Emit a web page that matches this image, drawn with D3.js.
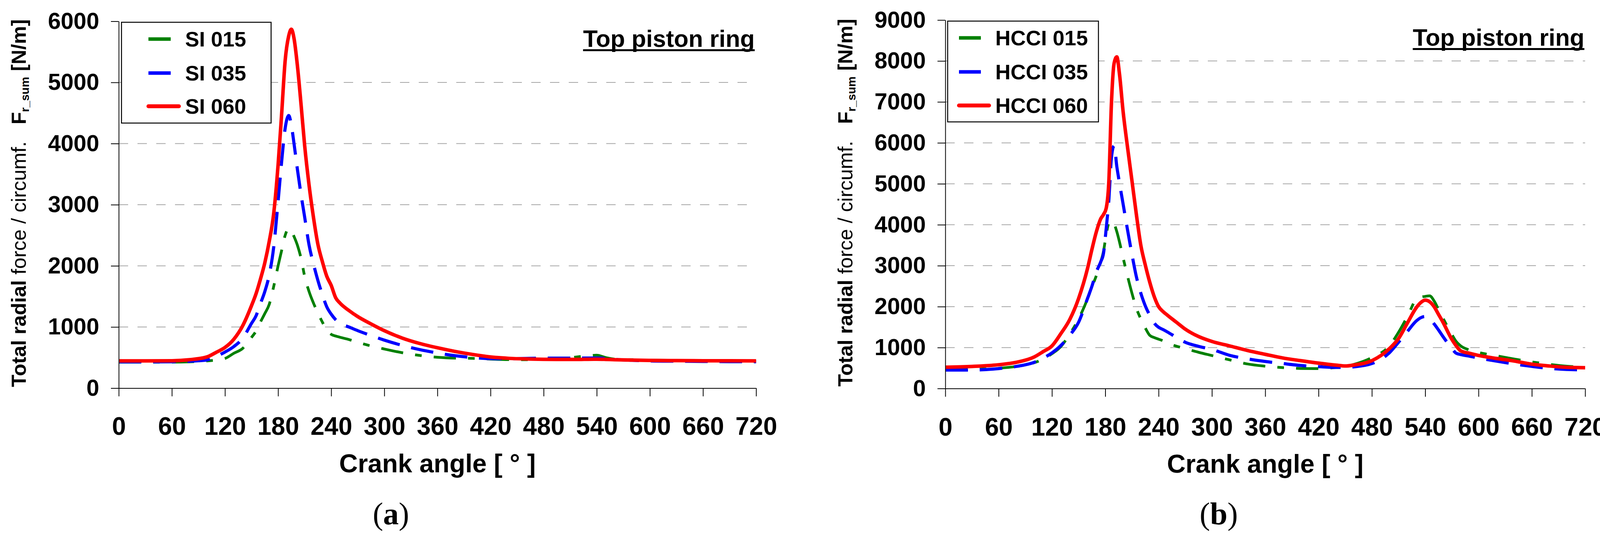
<!DOCTYPE html>
<html>
<head>
<meta charset="utf-8">
<script src="https://cdnjs.cloudflare.com/ajax/libs/d3/7.8.5/d3.min.js"></script>
<style>
body{margin:0;background:#fff;}
svg text{font-family:"Liberation Sans", Arial, sans-serif;}
</style>
</head>
<body>
<script>
// ---- data ----
let seriesNamesA = ['SI 015','SI 035','SI 060'];
let seriesNamesB = ['HCCI 015','HCCI 035','HCCI 060'];
let xTicks = [0,60,120,180,240,300,360,420,480,540,600,660,720];
let yTicksA = [0,1000,2000,3000,4000,5000,6000];
let yTicksB = [0,1000,2000,3000,4000,5000,6000,7000,8000,9000];

let anglesA = [0,30,60,80,100,110,120,130,140,150,155,160,165,170,175,180,184,188,192,195,198,202,206,210,215,220,225,230,235,240,245,250,260,270,285,300,320,340,360,380,400,420,440,460,480,500,520,530,540,550,560,580,600,630,660,690,720];
let si015 = [425,425,425,430,446,460,485,570,650,830,930,1080,1220,1370,1660,2000,2250,2500,2610,2570,2480,2330,2120,1830,1580,1390,1230,1080,950,880,852,832,795,750,690,640,580,535,505,490,487,475,467,465,467,480,515,530,538,500,475,465,458,452,447,443,440];
let si035 = [430,430,432,440,462,520,590,680,815,1060,1180,1380,1580,1850,2300,3050,3700,4250,4460,4300,4000,3560,3160,2800,2340,2030,1760,1530,1330,1210,1120,1060,1000,940,860,785,700,630,575,530,500,482,480,486,491,491,491,492,492,485,470,455,445,440,436,433,432];
let si060 = [446,446,448,465,512,585,665,800,1020,1350,1540,1780,2050,2400,2850,3650,4480,5358,5760,5870,5720,5250,4630,3970,3320,2790,2350,2070,1830,1680,1480,1390,1270,1170,1050,940,820,730,660,600,550,510,488,477,472,470,470,472,473,470,465,458,453,450,448,447,446];

let anglesB = [0,30,60,80,100,110,120,130,140,150,160,165,170,175,178,181,184,187,190,193,196,200,205,210,215,220,225,230,235,240,245,250,260,270,285,300,320,340,360,380,400,420,440,450,460,480,500,510,520,530,535,540,545,550,555,560,570,575,580,590,600,620,640,660,680,700,720];
let hcci015 = [455,470,495,540,630,720,850,1025,1330,1700,2190,2480,2760,3100,3350,3750,4040,4100,4020,3830,3580,3200,2750,2330,1960,1700,1480,1300,1245,1205,1165,1110,1035,975,885,805,700,600,545,510,490,486,515,540,590,755,1050,1373,1760,2180,2230,2250,2265,2140,1930,1720,1320,1145,1040,940,880,800,720,650,590,545,520];
let hcci035 = [450,452,487,540,640,740,870,1050,1300,1620,2200,2500,2850,3100,3300,3900,4600,5650,5930,5420,5020,4514,3880,3280,2730,2330,2020,1790,1600,1495,1440,1380,1250,1130,1030,955,810,725,660,610,562,535,515,515,530,610,880,1130,1395,1650,1730,1760,1700,1580,1430,1270,980,860,830,790,745,670,600,540,490,465,452];
let hcci060 = [520,540,581,640,770,900,1040,1340,1685,2200,2930,3400,3830,4150,4250,4400,5050,7000,7950,8100,7680,6780,5900,5080,4250,3500,3020,2600,2250,2000,1880,1790,1620,1450,1270,1150,1040,930,835,745,680,620,570,550,575,680,980,1220,1600,1975,2100,2160,2120,2000,1810,1620,1200,1040,920,860,808,735,672,595,550,518,508];

let w = 4121, h = 1372;

let svg = d3.select('body')
  .append('svg')
  .attr('width',w)
  .attr('height',h)
  .style('display','block');

svg.append('rect').attr('width',w).attr('height',h).attr('fill','#fff');

// green dash-dot, blue dashed, red solid
let styles = [
  {color:'#008000', width:7, dash:'57,31,17,31'},
  {color:'#0000ff', width:8, dash:'58,30'},
  {color:'#ff0000', width:9, dash:null}
];

let drawPanel = (p)=>{
  let xScale = d3.scaleLinear().domain([0,720]).range([p.left,p.right]);
  let yScale = d3.scaleLinear().domain([0,p.yMax]).range([p.bottom,p.top]);

  // grid
  svg.append('g').selectAll('line')
    .data(p.yTicks.filter(t=>t>0 && t<p.yMax))
    .enter()
    .append('line')
    .attr('x1',p.left).attr('x2',p.right)
    .attr('y1',d=>yScale(d)).attr('y2',d=>yScale(d))
    .attr('stroke','#a6a6a6')
    .attr('stroke-width',2)
    .attr('stroke-dasharray','24,24');

  // curves
  p.series.forEach((s,i)=>{
    let line = d3.line()
      .x((d,j)=>xScale(p.angles[j]))
      .y(d=>yScale(d))
      .curve(d3.curveMonotoneX);
    svg.append('path')
      .attr('d',line(s))
      .attr('fill','none')
      .attr('stroke',styles[i].color)
      .attr('stroke-width',styles[i].width)
      .attr('stroke-dasharray',styles[i].dash)
      .attr('stroke-linejoin','round');
  });

  let yAxis = svg.append('g')
    .attr('transform',`translate(${p.left},0)`)
    .call(d3.axisLeft(yScale).tickValues(p.yTicks).tickSize(20).tickSizeOuter(0).tickPadding(30).tickFormat(d3.format('d')));
  yAxis.selectAll('text').style('font-size','59px').style('font-weight','bold').attr('fill','#000');
  yAxis.selectAll('line,path').attr('stroke','#000').attr('stroke-width',2);

  let xAxis = svg.append('g')
    .attr('transform',`translate(0,${p.bottom})`)
    .call(d3.axisBottom(xScale).tickValues(xTicks).tickSize(21).tickSizeOuter(0).tickPadding(p.xPad));
  xAxis.selectAll('text').style('font-size','64px').style('font-weight','bold').attr('fill','#000');
  xAxis.selectAll('line,path').attr('stroke','#000').attr('stroke-width',2);

  // legend
  let lg = p.legend;
  svg.append('rect')
    .attr('x',lg.x).attr('y',lg.y).attr('width',lg.w).attr('height',lg.h)
    .attr('fill','#fff').attr('stroke','#000').attr('stroke-width',2.5);
  p.names.forEach((n,i)=>{
    let ly = lg.rows[i];
    svg.append('line')
      .attr('x1',lg.lx1).attr('x2',i==2 ? lg.lx2r : lg.lx2)
      .attr('y1',ly).attr('y2',ly)
      .attr('stroke',styles[i].color)
      .attr('stroke-width',i==2 ? 10 : 9)
      .attr('stroke-linecap',i==2 ? 'round' : 'butt');
    svg.append('text')
      .attr('x',lg.tx).attr('y',ly+19)
      .style('font-size','54px').style('font-weight','bold')
      .text(n);
  });

  // underlined title
  let t = svg.append('text')
    .attr('x',p.titleX).attr('y',p.titleY)
    .attr('text-anchor','end')
    .style('font-size','61px').style('font-weight','bold')
    .text('Top piston ring');
  let tl = t.node().getComputedTextLength();
  svg.append('rect')
    .attr('x',p.titleX-tl).attr('y',p.titleY+6)
    .attr('width',tl).attr('height',5).attr('fill','#000');

  // axis titles
  let yt = svg.append('text')
    .attr('transform',`translate(${p.left-238},${(p.top+p.bottom)/2 - 4}) rotate(-90)`)
    .attr('text-anchor','middle')
    .style('font-size','52px');
  yt.append('tspan').style('font-weight','bold').text('Total radial ');
  yt.append('tspan').text('force / circumf.');
  yt.append('tspan').style('font-weight','bold').text('\u00a0\u00a0\u00a0F');
  yt.append('tspan').style('font-weight','bold').style('font-size','30px').attr('dy',8).text('r_sum');
  yt.append('tspan').style('font-weight','bold').attr('dy',-8).text(' [N/m]');

  svg.append('text')
    .attr('x',(p.left+p.right)/2).attr('y',p.bottom+215)
    .attr('text-anchor','middle')
    .style('font-size','66px').style('font-weight','bold')
    .text('Crank angle [ \u00b0 ]');

  let sub = svg.append('text')
    .attr('x',(p.left+p.right)/2-119).attr('y',1342)
    .attr('text-anchor','middle')
    .style('font-family','"Liberation Serif", "Times New Roman", serif')
    .style('font-size','80px');
  sub.append('tspan').text('(');
  sub.append('tspan').style('font-weight','bold').text(p.tag);
  sub.append('tspan').text(')');
};

drawPanel({
  left:304, right:1935.6, top:54.5, bottom:993.5, yMax:6000, yTicks:yTicksA, xPad:53,
  angles:anglesA, series:[si015,si035,si060], names:seriesNamesA, tag:'a',
  legend:{x:311, y:57, w:383, h:258, rows:[100,187,272], lx1:380, lx2:437, lx2r:458, tx:474},
  titleX:1932, titleY:120
});

drawPanel({
  left:2420, right:4058, top:51.3, bottom:994.5, yMax:9000, yTicks:yTicksB, xPad:54,
  angles:anglesB, series:[hcci015,hcci035,hcci060], names:seriesNamesB, tag:'b',
  legend:{x:2426, y:54, w:386, h:258, rows:[97,184,270], lx1:2455, lx2:2511, lx2r:2532, tx:2548},
  titleX:4056, titleY:117
});
</script>
</body>
</html>
